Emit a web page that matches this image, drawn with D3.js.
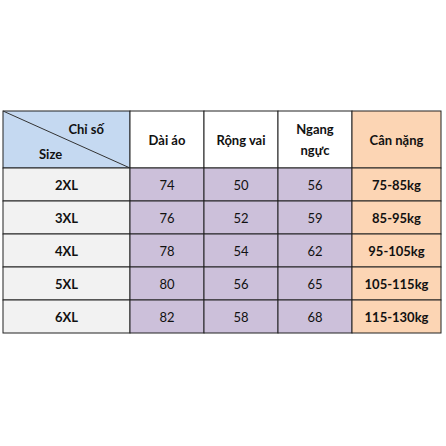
<!DOCTYPE html>
<html><head><meta charset="utf-8">
<script src="https://cdn.jsdelivr.net/npm/d3@7"></script>
<style>body{margin:0;background:#fff}text{font-family:Lato,"Open Sans",sans-serif;font-size:13px;fill:#111}</style>
</head><body>
<script>
var sizes = ["2XL", "3XL", "4XL", "5XL", "6XL"];
var daiAo = [74, 76, 78, 80, 82];
var rongVai = [50, 52, 54, 56, 58];
var ngangNguc = [56, 59, 62, 65, 68];
var canNang = ["75-85kg", "85-95kg", "95-105kg", "105-115kg", "115-130kg"];
var headers = [["Dài áo"], ["Rộng vai"], ["Ngang", "ngực"], ["Cân nặng"]];

var colEdges = [3, 130, 204, 278, 352, 441];
var svg = d3.select("body").append("svg").attr("width", 446).attr("height", 446);
var y = d3.scaleBand().domain(sizes).range([168, 333]);
var headTop = 111, headBot = 168;

var fills = ["#f2f2f2", "#ccc0da", "#ccc0da", "#ccc0da", "#fcd5b4"];
var headFills = ["#c5d9f1", "#ffffff", "#ffffff", "#ffffff", "#fcd5b4"];

// header
headFills.forEach(function (f, i) {
  svg.append("rect").attr("x", colEdges[i]).attr("y", headTop)
    .attr("width", colEdges[i + 1] - colEdges[i]).attr("height", headBot - headTop)
    .attr("fill", f).attr("stroke", "#222").attr("stroke-width", 1);
});
svg.append("line").attr("x1", colEdges[0]).attr("y1", headTop).attr("x2", colEdges[1]).attr("y2", headBot)
  .attr("stroke", "#333");
svg.append("text").attr("x", 104).attr("y", 134).attr("text-anchor", "end").style("font-weight", "bold").text("Chỉ số");
svg.append("text").attr("x", 39).attr("y", 159).style("font-weight", "bold").text("Size");
headers.forEach(function (h, i) {
  var cx = (colEdges[i + 1] + colEdges[i + 2]) / 2;
  var cy = (headTop + headBot) / 2;
  h.forEach(function (line, j) {
    svg.append("text").attr("x", cx).attr("y", cy + 5 + (j - (h.length - 1) / 2) * 21)
      .attr("text-anchor", "middle").style("font-weight", "bold").text(line);
  });
});

// body
var cols = [sizes, daiAo, rongVai, ngangNguc, canNang];
sizes.forEach(function (s, r) {
  cols.forEach(function (col, c) {
    svg.append("rect").attr("x", colEdges[c]).attr("y", y(s))
      .attr("width", colEdges[c + 1] - colEdges[c]).attr("height", y.bandwidth())
      .attr("fill", fills[c]).attr("stroke", "#222");
    svg.append("text").attr("x", (colEdges[c] + colEdges[c + 1]) / 2)
      .attr("y", y(s) + y.bandwidth() / 2 + 5).attr("text-anchor", "middle")
      .style("font-weight", (c === 0 || c === 4) ? "bold" : "normal")
      .text(col[r]);
  });
});
</script>
</body></html>
